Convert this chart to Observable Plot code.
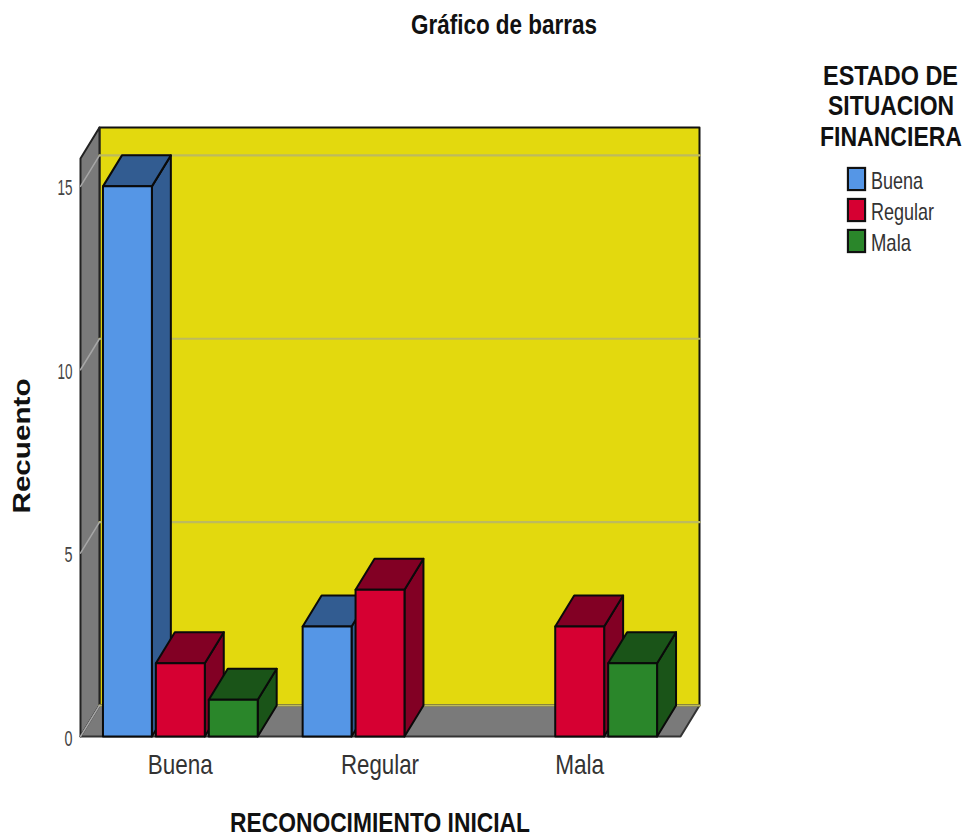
<!DOCTYPE html>
<html>
<head>
<meta charset="utf-8">
<script src="https://cdn.jsdelivr.net/npm/d3@7"></script>
<script src="https://cdn.jsdelivr.net/npm/@observablehq/plot@0.6"></script>
<style>
html,body{margin:0;padding:0;background:#fff;width:966px;height:836px;overflow:hidden;font-family:"Liberation Sans",Arial,sans-serif}
#chart{position:absolute;left:0;top:0}
.t{position:absolute;white-space:nowrap;transform-origin:0 50%;line-height:1}
.b{font-weight:bold;color:#111}
.s{position:absolute;box-sizing:border-box;border:2px solid #111;box-shadow:0 0 1px #333}
</style>
</head>
<body>
<div id="chart"></div>
<script>
const categories = ["Buena", "Regular", "Mala"];
const seriesNames = ["Buena", "Regular", "Mala"];
const buenaValues = [15, 3, 0];
const regularValues = [2, 4, 3];
const malaValues = [1, 0, 2];
const seriesValues = [buenaValues, regularValues, malaValues];
const frontColors = ["#5596E6", "#D60032", "#2A862A"];
const darkColors = ["#325C91", "#820024", "#1A5418"];
const yTicks = [0, 5, 10, 15];

// layout of the pseudo-3D box, in scale units
const depthX = 0.095, depthY = 0.845, wallTop = 15.76;
const left = -0.5, right = 2.505, halfBar = 0.1225, slot = 0.265;

const faces = [];
let id = 0;
const addFace = (pts, fill, stroke) => {
  id++;
  [...pts, pts[0]].forEach(([x, y]) => faces.push({x, y, id, fill, stroke}));
};
const WALL = "#7A7A7A", YEL = "#E3D90E";
addFace([[left + depthX, depthY], [right + depthX, depthY], [right + depthX, wallTop + depthY], [left + depthX, wallTop + depthY]], YEL, "#111");
addFace([[left, 0], [left + depthX, depthY], [left + depthX, wallTop + depthY], [left, wallTop]], WALL, "#222");
addFace([[left, 0], [right, 0], [right + depthX, depthY], [left + depthX, depthY]], WALL, "#333");

const backGrid = [], sideGrid = [];
yTicks.forEach(t => {
  [[left, t], [left + depthX, t + depthY]].forEach(([x, y]) => sideGrid.push({x, y, t}));
  [[left + depthX, t + depthY], [right + depthX, t + depthY]].forEach(([x, y]) => backGrid.push({x, y, t}));
});

categories.forEach((c, ci) => {
  seriesNames.forEach((s, si) => {
    const v = seriesValues[si][ci];
    if (!v) return;
    const x0 = ci + (si - 1) * slot - halfBar, x1 = ci + (si - 1) * slot + halfBar;
    addFace([[x1, 0], [x1 + depthX, depthY], [x1 + depthX, v + depthY], [x1, v]], darkColors[si], "#0a0a0a");
    addFace([[x0, v], [x1, v], [x1 + depthX, v + depthY], [x0 + depthX, v + depthY]], darkColors[si], "#0a0a0a");
    addFace([[x0, 0], [x1, 0], [x1, v], [x0, v]], frontColors[si], "#0a0a0a");
  });
});

const backFaces = faces.filter(d => d.id <= 3);
const barFaces = faces.filter(d => d.id > 3);
const faceLine = rows => Plot.line(rows, {
  x: "x", y: "y", z: "id", fill: d => d.fill, stroke: d => d.stroke,
  strokeWidth: 2, strokeLinejoin: "round"
});

const plot = Plot.plot({
  width: 966, height: 836,
  marginLeft: 80, marginRight: 267, marginTop: 127, marginBottom: 100,
  style: {fontFamily: '"Liberation Sans",Arial,sans-serif', background: "transparent"},
  x: {domain: [left, right + depthX]},
  y: {domain: [0, wallTop + depthY]},
  color: {type: "identity"},
  marks: [
    faceLine(backFaces),
    Plot.line(backGrid, {x: "x", y: "y", z: "t", stroke: "#BDBA5E", strokeWidth: 2.2}),
    Plot.line(sideGrid, {x: "x", y: "y", z: "t", stroke: "#A6A6A6", strokeWidth: 1.5}),
    faceLine(barFaces),
    Plot.axisY({ticks: yTicks, tickSize: 0, tickPadding: 8, dy: 2, label: null, fontSize: 22, fill: "#444"}),
    Plot.axisX({ticks: [0, 1, 2], tickFormat: i => categories[i], tickSize: 0, tickPadding: 18, label: null, fontSize: 28, fill: "#333"}),
    Plot.text(["Recuento"], {frameAnchor: "left", textAnchor: "middle", dx: -58, dy: 14, rotate: -90, fontSize: 24, fontWeight: "bold", fill: "#111"}),
    Plot.text(["RECONOCIMIENTO INICIAL"], {frameAnchor: "bottom", dx: -10, dy: 95, fontSize: 28, fontWeight: "bold", fill: "#111"})
  ]
});
document.getElementById("chart").appendChild(plot);

// the reference's text is squeezed horizontally: fit widths as real text
const textWidths = {"0": 8, "5": 8, "10": 15, "15": 15, "Buena": 65, "Regular": 78, "Mala": 49, "Recuento": 135, "RECONOCIMIENTO INICIAL": 300};
plot.querySelectorAll("text").forEach(t => {
  const w = textWidths[t.textContent.trim()];
  if (!w) return;
  const target = t.querySelector("tspan") || t;
  target.setAttribute("textLength", w);
  target.setAttribute("lengthAdjust", "spacingAndGlyphs");
});

const addText = (txt, x, yMid, size, w, cls) => {
  const el = document.createElement("div");
  el.className = "t " + (cls || "");
  el.textContent = txt;
  el.style.fontSize = size + "px";
  document.body.appendChild(el);
  const r = el.getBoundingClientRect();
  el.style.left = x + "px";
  el.style.top = (yMid - r.height / 2) + "px";
  el.style.transform = `scaleX(${w / r.width})`;
  return el;
};
addText("Gráfico de barras", 411, 25, 27, 186, "b");
addText("ESTADO DE", 823, 76, 28, 135, "b");
addText("SITUACION", 828, 106, 28, 126, "b");
addText("FINANCIERA", 820, 137, 28, 142, "b");

const legendY = [179, 210, 241];
const legendW = [52, 63, 40];
seriesNames.forEach((s, i) => {
  const sw = document.createElement("div");
  sw.className = "s";
  sw.style.cssText = `left:847px;top:${legendY[i] - 12}px;width:19px;height:24px;background:${frontColors[i]}`;
  document.body.appendChild(sw);
  const label = addText(s, 871, legendY[i] + 2, 24, legendW[i], "");
  label.style.color = "#333";
});
</script>
</body>
</html>
